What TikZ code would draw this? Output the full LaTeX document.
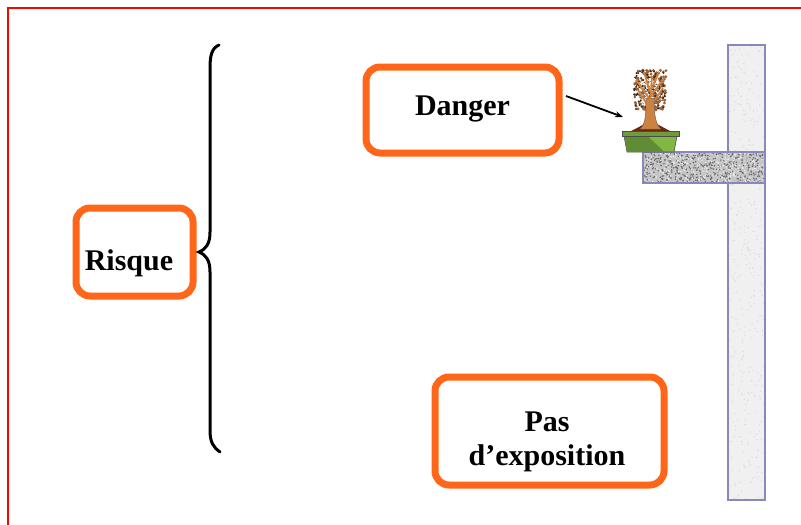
\documentclass[tikz,border=0pt]{standalone}
\usepackage{fontspec}
\setmainfont{Liberation Serif}
\usetikzlibrary{arrows.meta}
\definecolor{boxorange}{RGB}{255,102,26}
\definecolor{framered}{RGB}{255,0,0}
\definecolor{wallblue}{RGB}{136,136,187}
\definecolor{potgreen}{RGB}{128,184,66}
\definecolor{potdark}{RGB}{96,140,52}
\definecolor{trunkbrown}{RGB}{205,130,65}
\definecolor{leafbrown}{RGB}{150,100,60}
\definecolor{soil}{RGB}{110,36,12}
\tikzset{
  obox/.style={draw=boxorange, line width=7pt, rounded corners=14pt, fill=white, inner sep=0pt},
  lbl/.style={font=\bfseries\fontsize{30}{34}\selectfont, align=center, inner sep=0pt},
  wallpart/.style={draw=wallblue, line width=1.6pt},
}
\begin{document}
\begin{tikzpicture}[x=1pt,y=-1pt]
\useasboundingbox (0,0) rectangle (801,525);
% red frame
\draw[draw=framered, line width=2pt] (7.5,540) -- (7.5,7.5) -- (820,7.5);
% wall
\fill[gray!12] (728,45) rectangle (765,500);
\pgfmathsetseed{7}
\foreach \i in {1,...,350} {\fill[gray!30] ({729+35*rnd},{46+453*rnd}) circle (0.7pt);}
\draw[wallpart] (728,45) rectangle (765,500);
% shelf
\fill[gray!45] (643,152) rectangle (765,183);
\foreach \i in {1,...,450} {\fill[black!60] ({644+120*rnd},{153+29*rnd}) circle (0.8pt);}
\foreach \i in {1,...,250} {\fill[white!85!gray] ({644+120*rnd},{153+29*rnd}) circle (0.8pt);}
\draw[wallpart] (643,152) rectangle (765,183);
% bonsai canopy
\foreach \i in {1,...,160} {\fill[leafbrown] ({634+32*rnd},{70+40*rnd}) circle (1.6pt);}
\foreach \i in {1,...,90} {\fill[black!70!brown] ({634+32*rnd},{70+40*rnd}) circle (1.1pt);}
\foreach \i in {1,...,50} {\fill[white] ({637+26*rnd},{74+32*rnd}) circle (1pt);}
\foreach \a/\b/\c/\d in {648/106/638/90, 650/104/652/76, 652/104/663/88, 649/98/636/80, 651/96/664/78, 650/92/644/72, 651/90/659/72}
  {\draw[trunkbrown, line width=1.8pt] (\a,\b) -- (\c,\d);}
% soil and trunk
\fill[soil] (629,132) .. controls (640,127) and (645,123) .. (650,121) .. controls (656,123) and (662,127) .. (672,132) -- cycle;
\fill[trunkbrown, draw=black!60, line width=0.5pt] (640,129) .. controls (646,124) and (646,112) .. (646,98) -- (654,98) .. controls (654,112) and (655,124) .. (661,129) -- cycle;
% pot
\fill[potgreen, draw=black!70, line width=0.6pt] (624,136) -- (677,136) -- (674,152) -- (627,152) -- cycle;
\fill[potdark] (624.5,136.5) -- (648,136.5) -- (664,151.5) -- (627.3,151.5) -- cycle;
\fill[potgreen!85!black, draw=black!70, line width=0.6pt] (622,131) rectangle (679,136);
% boxes
\node[obox, minimum width=117pt, minimum height=88pt] (risque) at (134.5,252) {};
\node[lbl] (risquetxt) at (129,263) {Risque};
\node[obox, minimum width=193pt, minimum height=86pt] (danger) at (462.5,110) {};
\node[lbl] (dangertxt) at (462.5,109) {Danger};
\node[obox, minimum width=229pt, minimum height=108pt] (pas) at (549.5,431) {};
\node[lbl] (pastxt) at (547,442) {Pas\\d’exposition};
% brace
\draw[line width=3pt, line cap=round] (219,45) .. controls (212,48) and (210,55) .. (210,68) -- (210,232) .. controls (210,244) and (206,249) .. (199,252) .. controls (206,255) and (210,260) .. (210,272) -- (210,430) .. controls (210,442) and (213,447) .. (220,452);
% arrow
\coordinate (a1) at (566,96);
\coordinate (tree) at (623,117);
\draw[line width=1.8pt, -{Stealth[length=8pt,width=6pt]}] (a1) -- (tree);
\end{tikzpicture}
\end{document}
